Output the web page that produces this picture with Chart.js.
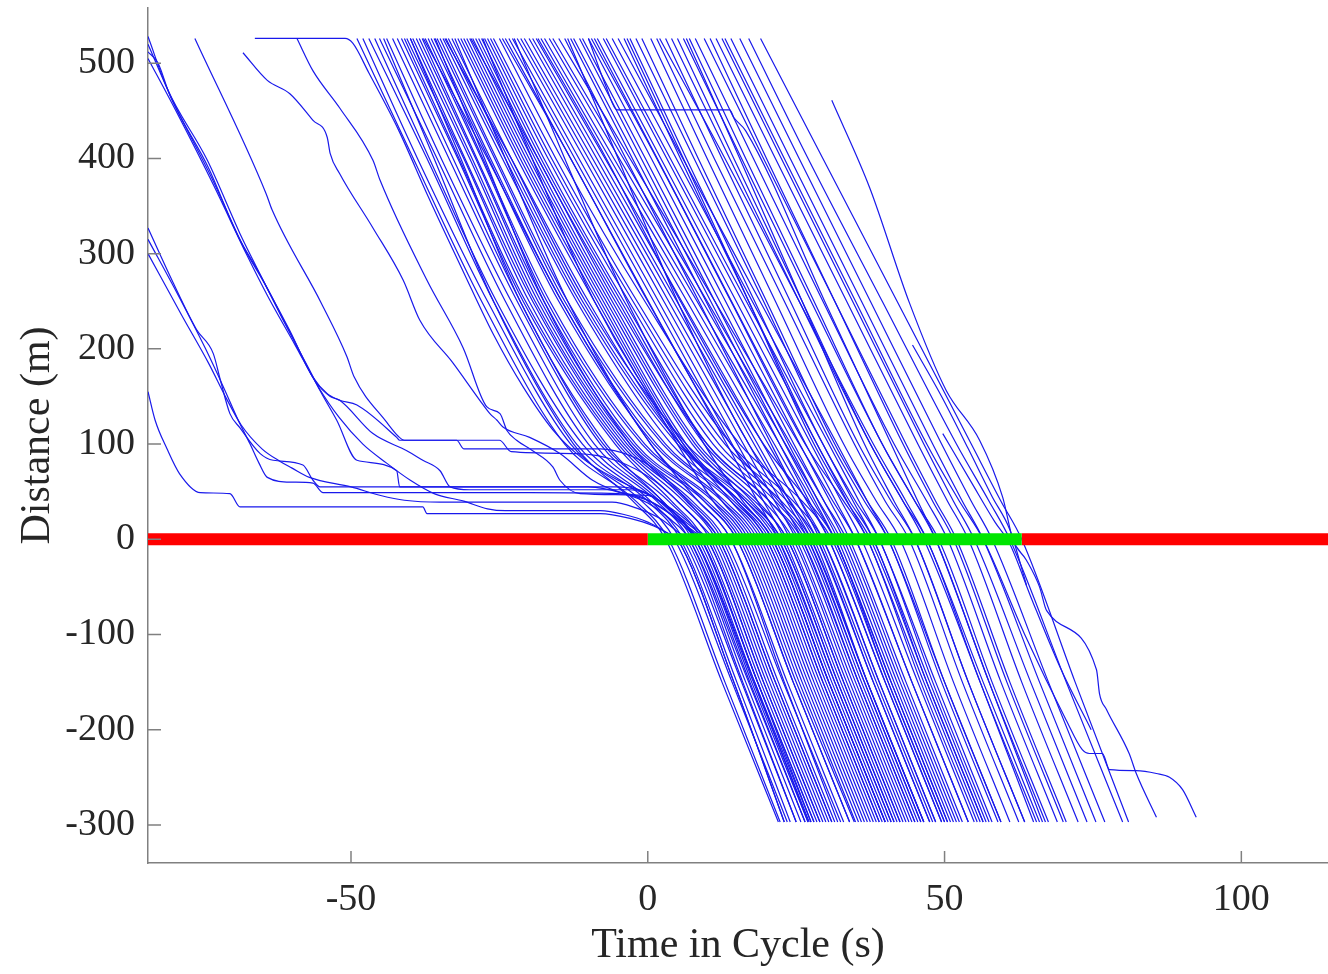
<!DOCTYPE html>
<html><head><meta charset="utf-8">
<script src="https://cdn.jsdelivr.net/npm/chart.js@4.4.1/dist/chart.umd.min.js"></script>
<style>html,body{margin:0;padding:0;background:#fff}#wrap{width:1328px;height:974px;position:relative}</style>
</head><body><div id="wrap"><canvas id="c"></canvas></div>
<script>
// ---- axis values ----
const xTickValues = [-50, 0, 50, 100];
const yTickValues = [-300, -200, -100, 0, 100, 200, 300, 400, 500];
const xRange = [-84.2, 114.6];
const yRange = [-340, 558];
// ---- signal phases at the stop line (d = 0) ----
const signalSwitchTimes = [-84.2, 0, 63, 114.6];
const signalStates = ['red', 'green', 'red'];
// ---- main bundle: time (s) at which each vehicle passes these distances (m) ----
const levelDistances = [526, 400, 250, 100, 40, 0, -150, -297];
const mainPassTimes = [
 [-49.0, -39.5, -28.0, -14.0, -2.0, 3.5, 13.0, 22.3],
 [-48.0, -38.8, -27.0, -13.0, -1.0, 4.5, 14.2, 23.5],
 [-47.0, -37.2, -26.0, -12.0, 0.0, 5.5, 15.0, 24.0],
 [-46.0, -36.8, -25.5, -11.0, 0.5, 6.0, 15.8, 25.0],
 [-45.2, -35.5, -24.0, -10.0, 1.5, 7.0, 16.5, 25.8],
 [-44.0, -34.8, -23.0, -9.0, 2.0, 7.5, 17.2, 26.5],
 [-43.0, -33.5, -22.0, -8.0, 2.5, 8.0, 17.8, 27.2],
 [-42.2, -32.8, -21.5, -7.5, 3.5, 9.0, 18.5, 28.0],
 [-41.5, -32.0, -21.0, -5.5, 4.0, 9.5, 19.0, 28.5],
 [-41.0, -31.8, -20.6, -5.0, 5.0, 10.5, 20.0, 29.5],
 [-40.6, -31.0, -20.0, -4.5, 6.0, 11.5, 21.0, 30.5],
 [-40.0, -30.8, -19.4, -4.0, 7.0, 12.5, 22.0, 31.5],
 [-39.6, -30.0, -19.0, -3.5, 7.5, 13.0, 22.8, 32.5],
 [-39.0, -29.6, -18.5, -3.0, 8.5, 14.0, 23.5, 33.0],
 [-38.5, -29.0, -18.0, -2.5, 9.5, 15.0, 24.5, 34.0],
 [-38.0, -28.8, -17.5, -2.0, 10.0, 15.5, 25.0, 34.8],
 [-37.5, -28.0, -17.0, -1.0, 11.0, 16.5, 26.0, 35.5],
 [-37.0, -27.8, -16.5, -0.5, 11.5, 17.0, 26.5, 36.0],
 [-36.5, -26.8, -15.0, 1.0, 12.5, 18.0, 27.5, 37.0],
 [-36.0, -26.5, -14.5, 1.5, 13.0, 18.5, 28.0, 37.5],
 [-35.5, -25.8, -14.0, 2.5, 14.0, 19.5, 29.0, 38.5],
 [-35.0, -25.5, -13.5, 3.0, 14.5, 20.0, 29.5, 39.0],
 [-34.5, -24.5, -12.0, 4.0, 15.5, 21.0, 30.5, 40.0],
 [-34.0, -24.0, -11.5, 5.0, 16.5, 22.0, 31.5, 41.0],
 [-33.6, -23.5, -11.0, 5.5, 17.0, 22.5, 32.0, 41.5],
 [-33.0, -23.0, -10.5, 6.5, 18.0, 23.5, 33.0, 42.5],
 [-32.0, -22.0, -9.0, 5.0, 11.0, 16.0, 25.5, 35.0],
 [-31.5, -21.5, -8.5, 5.5, 12.5, 17.5, 27.0, 36.5],
 [-31.0, -21.0, -8.0, 6.0, 14.0, 19.0, 28.5, 38.0],
 [-30.5, -20.5, -7.5, 6.5, 15.0, 20.0, 29.5, 39.0],
 [-30.0, -20.0, -7.0, 7.5, 16.5, 21.5, 31.0, 40.5],
 [-29.5, -19.5, -6.5, 8.0, 17.5, 22.5, 32.0, 41.5],
 [-29.0, -19.0, -6.0, 8.5, 18.5, 23.5, 33.0, 42.5],
 [-28.5, -18.5, -5.0, 9.5, 19.5, 24.5, 34.0, 43.5],
 [-28.0, -18.0, -4.5, 10.0, 20.5, 25.5, 35.0, 44.5],
 [-27.5, -17.5, -4.0, 11.0, 21.5, 26.5, 36.0, 45.5],
 [-27.0, -16.8, -3.2, 12.0, 22.5, 27.5, 37.0, 46.5],
 [-26.5, -16.2, -2.5, 13.0, 23.5, 28.5, 38.0, 47.5],
 [-26.0, -15.5, -1.8, 14.0, 24.5, 29.5, 39.0, 48.5],
 [-25.0, -14.5, -0.5, 15.5, 26.0, 31.0, 40.5, 50.0],
 [-24.0, -13.0, 0.1, 13.3, 18.5, 22.0, 31.5, 41.0],
 [-23.4, -12.3, 1.0, 14.2, 19.5, 23.0, 32.5, 42.0],
 [-22.8, -11.6, 1.8, 15.1, 20.4, 24.0, 33.5, 43.0],
 [-22.0, -10.7, 2.7, 16.1, 21.4, 25.0, 34.5, 44.0],
 [-21.4, -10.0, 3.5, 17.0, 22.4, 26.0, 35.5, 45.0],
 [-20.8, -9.3, 4.3, 17.9, 23.4, 27.0, 36.5, 46.0],
 [-20.0, -8.6, 4.9, 18.5, 23.9, 27.5, 37.0, 46.5],
 [-19.4, -7.9, 5.7, 19.4, 24.9, 28.5, 38.0, 47.5],
 [-18.8, -7.2, 6.6, 20.3, 25.8, 29.5, 39.0, 48.5],
 [-18.0, -6.4, 7.5, 21.3, 26.8, 30.5, 40.0, 49.5],
 [-17.4, -5.7, 8.3, 22.2, 27.8, 31.5, 41.0, 50.5],
 [-16.6, -4.8, 9.2, 23.2, 28.8, 32.5, 42.0, 51.5],
 [-16.0, -4.1, 10.0, 24.1, 29.7, 33.5, 43.0, 52.5],
 [-15.0, -3.0, 11.3, 25.5, 31.2, 35.0, 44.5, 54.0],
 [-14.0, -3.7, 8.6, 20.8, 25.7, 29.0, 38.5, 48.0],
 [-13.0, -2.6, 9.8, 22.2, 27.2, 30.5, 40.0, 49.5],
 [-12.5, -1.9, 10.6, 23.1, 28.2, 31.5, 41.0, 50.5],
 [-11.5, -1.1, 11.3, 23.7, 28.7, 32.0, 41.5, 51.0],
 [-11.0, -0.4, 12.1, 24.6, 29.7, 33.0, 42.5, 52.0],
 [-10.0, 0.6, 13.1, 25.6, 30.7, 34.0, 43.5, 53.0],
 [-9.0, 1.6, 14.1, 26.6, 31.7, 35.0, 44.5, 54.0],
 [-8.5, 2.2, 14.9, 27.5, 32.6, 36.0, 45.5, 55.0],
 [-7.5, 3.2, 15.9, 28.5, 33.6, 37.0, 46.5, 56.0],
 [-7.0, 3.8, 16.6, 29.5, 34.6, 38.0, 47.5, 57.0],
 [-6.0, 4.8, 17.6, 30.5, 35.6, 39.0, 48.5, 58.0],
 [-5.0, 5.9, 18.9, 31.9, 37.0, 40.5, 50.0, 59.5],
 [-4.0, 5.5, 17.0, 28.5, 34.0, 38.0, 47.0, 56.5],
 [-3.0, 6.5, 18.0, 29.5, 35.0, 39.0, 48.0, 57.5],
 [-2.0, 7.8, 19.5, 31.0, 36.5, 40.5, 49.5, 59.0],
 [-1.0, 8.5, 20.0, 31.5, 37.0, 41.0, 50.0, 59.5],
 [0.5, 10.0, 21.5, 33.0, 38.5, 42.5, 51.5, 61.0],
 [1.5, 11.2, 23.0, 34.8, 40.0, 44.0, 53.0, 62.5],
 [3.0, 12.5, 24.0, 35.5, 41.0, 45.0, 54.0, 63.5],
 [4.0, 13.8, 25.5, 37.5, 43.0, 47.0, 56.0, 65.5],
 [5.0, 14.5, 26.0, 37.5, 43.0, 46.5, 56.0, 65.0],
 [6.0, 15.8, 27.5, 39.5, 45.0, 48.5, 57.5, 67.0],
 [7.0, 16.5, 28.0, 39.5, 45.0, 49.0, 58.0, 67.5],
 [8.0, 17.8, 29.5, 41.5, 47.0, 50.5, 59.5, 69.0],
 [9.5, 19.5, 31.5, 43.5, 48.5, 52.0, 61.0, 70.5],
 [10.5, 20.0, 31.5, 43.0, 48.0, 51.5, 60.5, 70.0],
 [11.5, 21.5, 33.5, 45.5, 50.5, 54.0, 63.0, 72.5],
 [12.5, 22.5, 34.5, 46.5, 51.5, 55.0, 64.5, 74.0],
 [14.0, 24.0, 36.0, 48.0, 53.0, 56.5, 66.0, 75.5],
 [15.5, 25.5, 37.5, 49.5, 54.5, 58.0, 67.5, 77.0],
 [17.0, 27.0, 39.5, 52.0, 57.5, 61.0, 70.5, 80.0],
 [19.0, 29.5, 42.0, 54.5, 59.5, 63.0, 72.0, 81.0],
 [-44.5, -36.0, -26.0, -12.5, -2.5, 3.0, 12.5, 22.0],
 [-40.0, -31.5, -21.5, -7.0, 2.5, 8.0, 17.5, 27.0],
 [-37.8, -27.0, -14.5, 0.5, 8.5, 14.0, 23.0, 32.0],
 [-35.8, -27.5, -17.5, -3.0, 6.5, 12.0, 21.5, 31.0],
 [-34.2, -23.0, -10.0, 5.5, 15.5, 21.0, 30.5, 40.0],
 [-32.5, -24.0, -13.5, 0.5, 9.5, 15.0, 24.5, 34.0],
 [-29.8, -18.5, -5.5, 10.0, 20.5, 26.0, 35.5, 45.0],
 [-27.8, -19.5, -9.0, 6.0, 15.0, 20.5, 30.0, 39.5],
 [-24.5, -13.0, 0.0, 14.0, 22.0, 27.0, 36.5, 46.0],
 [-22.5, -14.0, -3.5, 9.5, 16.0, 21.0, 30.5, 40.0],
 [-18.5, -7.0, 5.5, 19.5, 27.0, 31.5, 40.5, 50.0],
 [-13.5, -5.0, 5.0, 17.0, 24.0, 28.0, 37.0, 46.5],
 [-9.5, 1.5, 14.0, 26.5, 33.0, 37.0, 46.0, 55.5],
 [-3.5, 6.0, 17.0, 28.0, 33.5, 37.5, 47.0, 56.5],
 [2.0, 13.0, 25.5, 38.0, 43.5, 47.0, 56.5, 66.0],
 [6.5, 15.5, 26.0, 36.5, 41.5, 45.0, 54.0, 63.5]
];
// ---- vehicles that queued during red: [time (s), distance (m)] ----
const queueTracks = [
 [[-84.2,528],[-81,474],[-74.2,398],[-68.7,321],[-66.5,293],[-64.8,272],[-60.3,219],[-56.4,170],[-54,153],[-51.9,146],[-49,141],[-42.3,107],[-41.8,104],[-32.2,104],[-31,95],[-8,95],[-3,88],[2,70],[6,45],[9.5,20],[12,0],[21.5,-150],[31,-297]],
 [[-84.2,512],[-82.5,500],[-80.5,466],[-74,390],[-69,318],[-65.5,280],[-61,225],[-57,178],[-55.2,156],[-52.4,125],[-49,83],[-42.3,72],[-41.8,55],[-5,55],[0,48],[4,30],[7,10],[8.5,0],[18,-150],[27,-297]],
 [[-84.2,520],[-80,460],[-73.5,380],[-68,306],[-64.5,268],[-60,214],[-56,166],[-53.5,150],[-51.9,146],[-46.3,111],[-40.6,93],[-37.9,83],[-35,72],[-33.3,55],[-30,52],[-3,52],[1,44],[5,25],[8,5],[9,0],[18.5,-150],[28,-297]],
 [[-76.3,526],[-64.3,363],[-63.3,346],[-55,248],[-50.7,192],[-49.5,171],[-44,123],[-42,108],[-41,104],[-25,104],[-23,92],[-12,90],[-5,82],[1,62],[5,40],[9,15],[11,0],[20.5,-150],[30,-297]],
 [[-84.2,505],[-79.5,450],[-73,370],[-67.5,298],[-64,255],[-59.5,205],[-55.5,160],[-52,128],[-48,100],[-44,80],[-40,62],[-36,48],[-31,40],[-27,32],[-24,30],[-8,30],[-4,26],[0,18],[3.5,6],[5,0],[14.5,-150],[23,-297]],
 [[-68.2,511],[-64.1,482],[-60.3,468],[-56.4,440],[-54,422],[-53.5,405],[-51.9,384],[-46.3,327],[-41.2,272],[-38.4,230],[-32.8,185],[-28.3,146],[-26.6,132],[-25.4,125],[-24.4,118],[-19.9,107],[-14.8,90],[-9.3,62],[-5,50],[-1,44],[3,30],[7,12],[9,0],[18.5,-150],[27.5,-297]],
 [[-59.1,526],[-56.4,492],[-51.9,453],[-46.3,398],[-45.1,377],[-37.2,272],[-31.1,201],[-27.1,139],[-24.9,132],[-23.7,114],[-22.1,104],[-19.4,93],[-16,76],[-14.8,62],[-11.4,48],[0,46],[4,32],[8,12],[10,0],[19.5,-150],[29,-297]],
 [[-66.2,526],[-51,526],[-49.7,521],[-47,490],[-42,430],[-37,360],[-31,280],[-26,215],[-21,160],[-16,115],[-11,85],[-5,62],[1,44],[5,25],[9,5],[10,0],[19.5,-150],[29,-297]],
 [[-84.2,155],[-83,125],[-81,95],[-78.9,69],[-75.4,49],[-70.4,48],[-68.7,34],[-37.9,34],[-37.2,27],[-8,27],[-3,22],[1,14],[4,4],[5,0],[14.5,-150],[23,-297]],
 [[-84.2,327],[-80,270],[-76,220],[-73.2,195],[-72,167],[-70.4,132],[-68.7,117],[-65.3,90],[-63.1,83],[-58.1,78],[-56.4,62],[-55.2,55],[-10,55],[-4,48],[0,38],[4,20],[7,0],[17,-150],[26.5,-297]],
 [[-84.2,315],[-79,255],[-74.5,200],[-71.5,160],[-69,125],[-67,100],[-65.5,80],[-64.1,65],[-60,60],[-56.4,59],[-54.7,49],[-20,49],[-5,48],[1,38],[5,20],[8,0],[18,-150],[27.5,-297]],
 [[-84.2,300],[-78.5,235],[-74,185],[-71,148],[-68.5,120],[-65,95],[-62,82],[-60,75],[-57,65],[-50,55],[-45,46],[-41,41],[-35,39],[-6,39],[-2,33],[2,22],[5,8],[6.5,0],[16,-150],[25,-297]]
];
// ---- other individual vehicles (late entries, stops downstream): [time (s), distance (m)] ----
const otherTracks = [
 [[31.0,461],[37.4,369],[44.1,248],[50.3,156],[55.9,104],[59.8,44],[61.5,0],[63.8,-22],[66.0,-50],[67.2,-75],[75.6,-137],[76.1,-162],[77.3,-179],[81.1,-225],[82.3,-246],[85.7,-292]],
 [[44.6,204],[49.5,150],[54.0,95],[58.0,45],[61.0,10],[63.8,-48]],
 [[49.7,111],[54.5,60],[58.5,18],[61.0,-5],[64.5,-60],[69.5,-135],[74.7,-200]],
 [[13.0,526],[23.0,400],[35.0,250],[47.0,100],[52.5,40],[56.5,0],[63.5,-100],[70.5,-190],[73.2,-221],[74.4,-225],[76.6,-225],[77.8,-242],[82.3,-243],[85.7,-246],[87.9,-250],[90.1,-263],[92.4,-292]],
 [[-10.0,526],[-7.0,475],[-5.2,451],[13.8,451],[14.5,443],[16.5,429],[29.8,250],[41.0,100],[45.5,40],[48.5,0],[57.5,-150],[66.5,-297]]
];

// ---- styles ----
const FONT = 'Liberation Serif';
const TEXT = '#262626';
const AXIS = '#808080';
const TRACK = 'rgb(25,25,235)';
const SIGNAL_COLORS = { red: '#ff0000', green: '#00e600' };

const datasets = [];
for (let i = 0; i < signalStates.length; i++) {
  datasets.push({
    data: [{x: signalSwitchTimes[i], y: 0}, {x: signalSwitchTimes[i + 1], y: 0}],
    borderColor: SIGNAL_COLORS[signalStates[i]], borderWidth: 12, borderCapStyle: 'butt',
    pointRadius: 0, showLine: true, order: 0, clip: false
  });
}
function addTrack(points) {
  datasets.push({ data: points, borderColor: TRACK, borderWidth: 1.2, pointRadius: 0,
    showLine: true, order: 1, cubicInterpolationMode: 'monotone' });
}
mainPassTimes.forEach(row => addTrack(levelDistances.map((d, i) => ({x: row[i], y: d})).filter(p => p.x !== null)));
queueTracks.forEach(tr => addTrack(tr.map(p => ({x: p[0], y: p[1]}))));
otherTracks.forEach(tr => addTrack(tr.map(p => ({x: p[0], y: p[1]}))));

const inwardTicks = {
  id: 'inwardTicks',
  afterDatasetsDraw(chart) {
    const {ctx, chartArea, scales: {x, y}} = chart;
    ctx.save();
    ctx.strokeStyle = AXIS; ctx.lineWidth = 1.5;
    ctx.beginPath();
    yTickValues.forEach(v => { const py = y.getPixelForValue(v); ctx.moveTo(chartArea.left, py); ctx.lineTo(chartArea.left + 13, py); });
    xTickValues.forEach(v => { const px = x.getPixelForValue(v); ctx.moveTo(px, chartArea.bottom); ctx.lineTo(px, chartArea.bottom - 12); });
    ctx.stroke();
    ctx.restore();
  }
};

new Chart(document.getElementById('c'), {
  type: 'scatter',
  data: { datasets },
  plugins: [inwardTicks],
  options: {
    responsive: true, maintainAspectRatio: false, animation: false, devicePixelRatio: 1,
    layout: { padding: { top: 8, right: 0, bottom: 0, left: 0 } },
    plugins: { legend: { display: false }, tooltip: { enabled: false } },
    scales: {
      x: {
        type: 'linear', position: 'bottom', min: xRange[0], max: xRange[1],
        afterBuildTicks: s => { s.ticks = xTickValues.map(v => ({value: v})); },
        afterFit: s => { s.height = 111; s.paddingLeft = 0; s.paddingRight = 0; },
        grid: { display: false, drawTicks: false },
        border: { display: true, color: AXIS, width: 1.5 },
        ticks: { font: { family: FONT, size: 38 }, color: TEXT, padding: 14, maxRotation: 0, callback: v => String(v) },
        title: { display: true, text: 'Time in Cycle (s)', font: { family: FONT, size: 42 }, color: TEXT, padding: { top: 0, bottom: 3 } }
      },
      y: {
        type: 'linear', position: 'left', min: yRange[0], max: yRange[1],
        afterBuildTicks: s => { s.ticks = yTickValues.map(v => ({value: v})); },
        afterFit: s => { s.width = 148; s.paddingTop = 0; s.paddingBottom = 0; },
        grid: { display: false, drawTicks: false },
        border: { display: true, color: AXIS, width: 1.5 },
        ticks: { font: { family: FONT, size: 38 }, color: TEXT, padding: 13, callback: v => String(v) },
        title: { display: true, text: 'Distance (m)', font: { family: FONT, size: 42 }, color: TEXT, padding: { top: 13, bottom: 0 } }
      }
    }
  }
});
</script>
</body></html>
